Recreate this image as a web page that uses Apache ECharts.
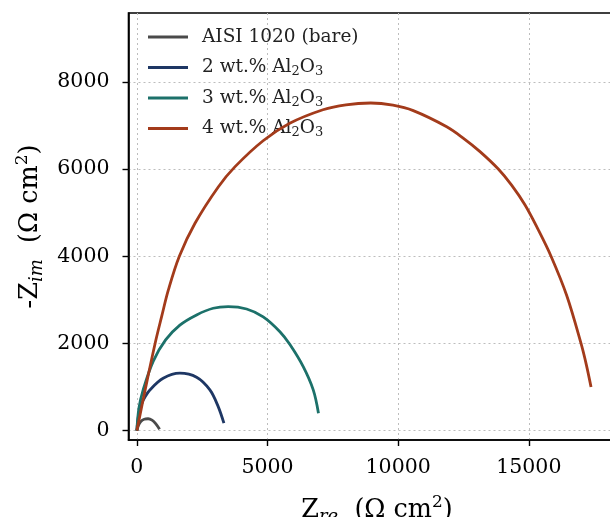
<!DOCTYPE html>
<html><head><meta charset="utf-8">
<script src="https://cdn.jsdelivr.net/npm/echarts@6/dist/echarts.min.js"></script>
<style>html,body{margin:0;padding:0;background:#fff}#c{width:610px;height:517px}</style>
</head><body><div id="c"></div>
<script>
// ---- data ----
const seriesNames = ['AISI 1020 (bare)', '2 wt.% Al2O3', '3 wt.% Al2O3', '4 wt.% Al2O3'];

const bareX = [0, 60, 150, 280, 430, 580, 720, 870];
const bareY = [0, 120, 210, 262, 272, 240, 160, 30];

const wt2X = [0, 60, 180, 320, 498, 1007, 1646, 2286, 2795, 3113, 3331];
const wt2Y = [0, 330, 610, 780, 934, 1202, 1317, 1225, 934, 550, 170];

const wt3X = [0, 80, 241, 624, 1100, 1646, 2286, 2921, 3496, 4200, 4835, 5475, 5858, 6367, 6750, 6950];
const wt3Y = [0, 520, 934, 1590, 2080, 2420, 2654, 2807, 2844, 2790, 2610, 2270, 1975, 1468, 934, 399];

const wt4X = [0, 317, 698, 952, 1206, 1626, 2225, 3115, 3750, 4832, 5851, 7122, 8000, 8950, 9800, 10578, 11857, 12500, 13132, 13832, 14341, 14850, 15350, 15850, 16450, 16998, 17200, 17381];
const wt4Y = [0, 934, 2000, 2625, 3227, 4000, 4757, 5590, 6050, 6650, 7050, 7360, 7475, 7515, 7465, 7340, 6970, 6705, 6400, 6000, 5630, 5180, 4620, 4000, 3100, 2000, 1515, 1000];

const xTicks = [0, 5000, 10000, 15000];
const yTicks = [0, 2000, 4000, 6000, 8000];

// ---- styles ----
const colors = ['#4a4a4a', '#1e3764', '#1c716a', '#a33b1b'];
const FONT = 'DejaVu Serif';

function pairs(xs, ys) { return xs.map((x, i) => [x, ys[i]]); }
const allX = [bareX, wt2X, wt3X, wt4X];
const allY = [bareY, wt2Y, wt3Y, wt4Y];

const chart = echarts.init(document.getElementById('c'), null, {renderer: 'canvas'});

const nameRich = {
  t: {fontSize: 25.5, fontFamily: FONT, color: '#000', lineHeight: 32},
  s: {fontSize: 18, fontFamily: FONT, fontStyle: 'italic', color: '#000', lineHeight: 16, verticalAlign: 'bottom'},
  p: {fontSize: 17, fontFamily: FONT, color: '#000', lineHeight: 16, verticalAlign: 'top'}
};

const option = {
  animation: false,
  backgroundColor: '#fff',
  grid: {left: 128.5, top: 13, width: 497, height: 427, outerBoundsMode: 'none', containLabel: false,
         show: true, borderColor: '#000', borderWidth: 1.6, backgroundColor: 'transparent'},
  legend: {
    orient: 'vertical', left: 143, top: 21,
    itemWidth: 40, itemHeight: 3, itemGap: 8.5, icon: 'rect',
    data: seriesNames,
    textStyle: {
      fontSize: 18.5, fontFamily: FONT, color: '#222', lineHeight: 22, padding: [0, 0, 0, 9],
      rich: {s: {fontSize: 13, fontFamily: FONT, color: '#222', lineHeight: 12, verticalAlign: 'bottom'}}
    },
    formatter: n => n.replace('Al2O3', 'Al{s|2}O{s|3}')
  },
  xAxis: {
    type: 'value', min: -320, max: 18700,
    name: '{t|Z}{s|re}{t|  (Ω cm}{p|2}{t|)}',
    nameLocation: 'middle', nameGap: 54,
    nameTextStyle: {rich: nameRich},
    axisLine: {show: true, onZero: false, lineStyle: {color: '#000', width: 1.6}},
    axisTick: {show: true, length: 6, customValues: xTicks, lineStyle: {color: '#000', width: 1.4}},
    axisLabel: {customValues: xTicks, fontSize: 20.5, fontFamily: FONT, color: '#000', margin: 17,
                formatter: v => String(v)},
    splitLine: {show: true, lineStyle: {color: '#bdbdbd', width: 1, type: [2, 3]}}
  },
  yAxis: {
    type: 'value', min: -215, max: 9580,
    name: '{t|-Z}{s|im}{t|  (Ω cm}{p|2}{t|)}',
    nameLocation: 'middle', nameGap: 76, nameRotate: 90,
    nameTextStyle: {rich: nameRich},
    axisLine: {show: true, onZero: false, lineStyle: {color: '#000', width: 1.6}},
    axisTick: {show: true, length: 6, customValues: yTicks, lineStyle: {color: '#000', width: 1.4}},
    axisLabel: {customValues: yTicks, fontSize: 20.5, fontFamily: FONT, color: '#000', margin: 19,
                formatter: v => String(v)},
    splitLine: {show: true, lineStyle: {color: '#bdbdbd', width: 1, type: [2, 3]}}
  },
  series: seriesNames.map((n, i) => ({
    name: n, type: 'line', data: pairs(allX[i], allY[i]),
    smooth: 0.35, showSymbol: false, symbol: 'none',
    lineStyle: {color: colors[i], width: 2.8},
    itemStyle: {color: colors[i]},
    z: 2 + i
  }))
};
chart.setOption(option);
</script>
</body></html>
